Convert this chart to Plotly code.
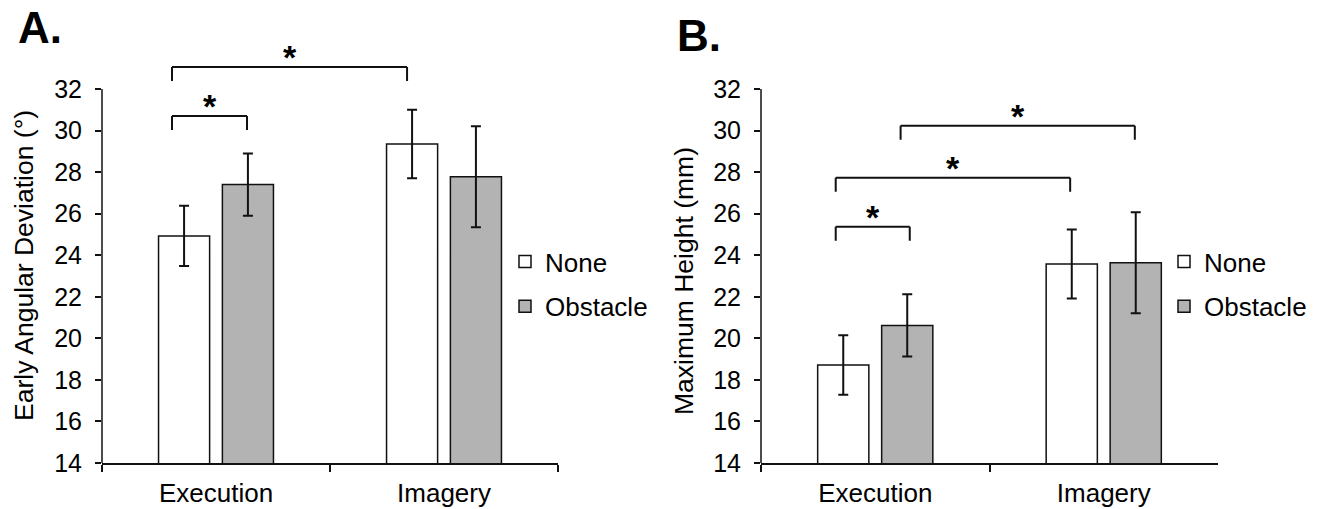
import plotly.graph_objects as go

# ---------------- data ----------------
categories = ["Execution", "Imagery"]
series_names = ["None", "Obstacle"]

a_none = [24.93, 29.35]
a_none_err = [1.45, 1.65]
a_obst = [27.40, 27.78]
a_obst_err = [1.50, 2.43]

b_none = [18.72, 23.58]
b_none_err = [1.43, 1.66]
b_obst = [20.62, 23.64]
b_obst_err = [1.50, 2.43]

ytick_vals = [14, 16, 18, 20, 22, 24, 26, 28, 30, 32]
ytitle_a = "Early Angular Deviation (°)"
ytitle_b = "Maximum Height (mm)"

# significance brackets: (x start, x end, level) in category-index units
brackets_a = [(-0.193, 0.838, 33.06), (-0.193, 0.136, 30.70)]
brackets_b = [(0.111, 1.136, 30.23), (-0.173, 0.853, 27.73), (-0.173, 0.151, 25.37)]

# ---------------- styling ----------------
W, H = 1317, 509
FONT = "Liberation Sans, Arial, sans-serif"
INK = "#111111"
GRAY = "#b3b3b3"


def px_x(p):
    return p / W


def px_y(p):
    return 1 - p / H


fig = go.Figure()

panels = [
    ("x", "y", "legend", a_none, a_none_err, a_obst, a_obst_err),
    ("x2", "y2", "legend2", b_none, b_none_err, b_obst, b_obst_err),
]
for xa, ya, lg, nv, ne, ov, oe in panels:
    for name, vals, errs, fill, grp in [
        (series_names[0], nv, ne, "white", "g1"),
        (series_names[1], ov, oe, GRAY, "g2"),
    ]:
        fig.add_trace(go.Bar(
            x=categories, y=vals, name=name,
            xaxis=xa, yaxis=ya, legend=lg, legendgroup=lg + grp,
            marker=dict(color=fill, line=dict(color=INK, width=1.5)),
            error_y=dict(type="data", array=errs, visible=True,
                         color=INK, thickness=2, width=5),
        ))

y_dom = [px_y(463), px_y(463 - 20 * 374 / 18)]


def xaxis_style(dom, anchor):
    return dict(
        type="category", showline=True, linecolor=INK, linewidth=1.5,
        ticks="outside", tickson="boundaries", ticklen=7, tickwidth=1.5,
        tickcolor=INK, tickfont=dict(size=26, color="#000", family=FONT),
        showgrid=False, zeroline=False, range=[-0.5, 1.5], fixedrange=True,
        ticklabelstandoff=6, automargin=False, domain=dom, anchor=anchor,
    )


def yaxis_style(anchor):
    return dict(
        range=[14, 34], tickvals=ytick_vals, showline=False,
        ticks="outside", ticklen=6, tickwidth=1.5, tickcolor=INK,
        tickfont=dict(size=25, color="#000", family=FONT),
        showgrid=False, zeroline=False, domain=y_dom, ticklabelstandoff=8,
        automargin=False, fixedrange=True, anchor=anchor,
    )


legend_common = dict(
    xanchor="left", yanchor="top",
    font=dict(size=26, family=FONT, color="#000"),
    traceorder="grouped", tracegroupgap=8, bgcolor="rgba(0,0,0,0)",
)

fig.update_layout(
    width=W, height=H,
    margin=dict(l=0, r=0, t=0, b=0, autoexpand=False),
    paper_bgcolor="white", plot_bgcolor="white",
    font=dict(family=FONT, color="#000"),
    barmode="group", bargap=0.44, bargroupgap=0.2,
    xaxis=xaxis_style([px_x(102), px_x(558)], "y"),
    yaxis=yaxis_style("x"),
    xaxis2=xaxis_style([px_x(761), px_x(1218)], "y2"),
    yaxis2=yaxis_style("x2"),
    legend=dict(x=px_x(505), y=px_y(238), **legend_common),
    legend2=dict(x=px_x(1164), y=px_y(238), **legend_common),
    showlegend=True,
)

shapes = []
# y-axis lines (only from 14 to 32)
for xa, ya in [("x", "y"), ("x2", "y2")]:
    shapes.append(dict(type="line", xref=xa + " domain", yref=ya,
                       x0=0, x1=0, y0=14, y1=32,
                       line=dict(color=INK, width=1.5)))

annotations = []
TAIL = 0.67
for xa, ya, brs in [("x", "y", brackets_a), ("x2", "y2", brackets_b)]:
    for x0, x1, lvl in brs:
        ln = dict(color=INK, width=2)
        shapes.append(dict(type="line", xref=xa, yref=ya, x0=x0, x1=x1, y0=lvl, y1=lvl, line=ln))
        shapes.append(dict(type="line", xref=xa, yref=ya, x0=x0, x1=x0, y0=lvl, y1=lvl - TAIL, line=ln))
        shapes.append(dict(type="line", xref=xa, yref=ya, x0=x1, x1=x1, y0=lvl, y1=lvl - TAIL, line=ln))
        annotations.append(dict(xref=xa, yref=ya, x=(x0 + x1) / 2, y=lvl,
                                text="<b>*</b>", showarrow=False,
                                xanchor="center", yanchor="middle", yshift=10,
                                font=dict(size=34, family=FONT, color="#000")))

# axis titles
annotations.append(dict(xref="paper", yref="paper", x=px_x(24), y=px_y(266),
                        text=ytitle_a, textangle=-90, showarrow=False,
                        xanchor="center", yanchor="middle",
                        font=dict(size=26.5, family=FONT, color="#000")))
annotations.append(dict(xref="paper", yref="paper", x=px_x(684), y=px_y(281),
                        text=ytitle_b, textangle=-90, showarrow=False,
                        xanchor="center", yanchor="middle",
                        font=dict(size=26.5, family=FONT, color="#000")))
# panel letters
annotations.append(dict(xref="paper", yref="paper", x=px_x(16), y=px_y(28),
                        text="<b>A.</b>", showarrow=False,
                        xanchor="left", yanchor="middle",
                        font=dict(size=44, family=FONT, color="#000")))
annotations.append(dict(xref="paper", yref="paper", x=px_x(675), y=px_y(35),
                        text="<b>B.</b>", showarrow=False,
                        xanchor="left", yanchor="middle",
                        font=dict(size=44, family=FONT, color="#000")))

fig.update_layout(shapes=shapes, annotations=annotations)
fig.write_html(
    "out.html",
    config={"displayModeBar": False},
    post_script="document.body.style.margin='0';document.body.style.overflow='hidden';",
)
